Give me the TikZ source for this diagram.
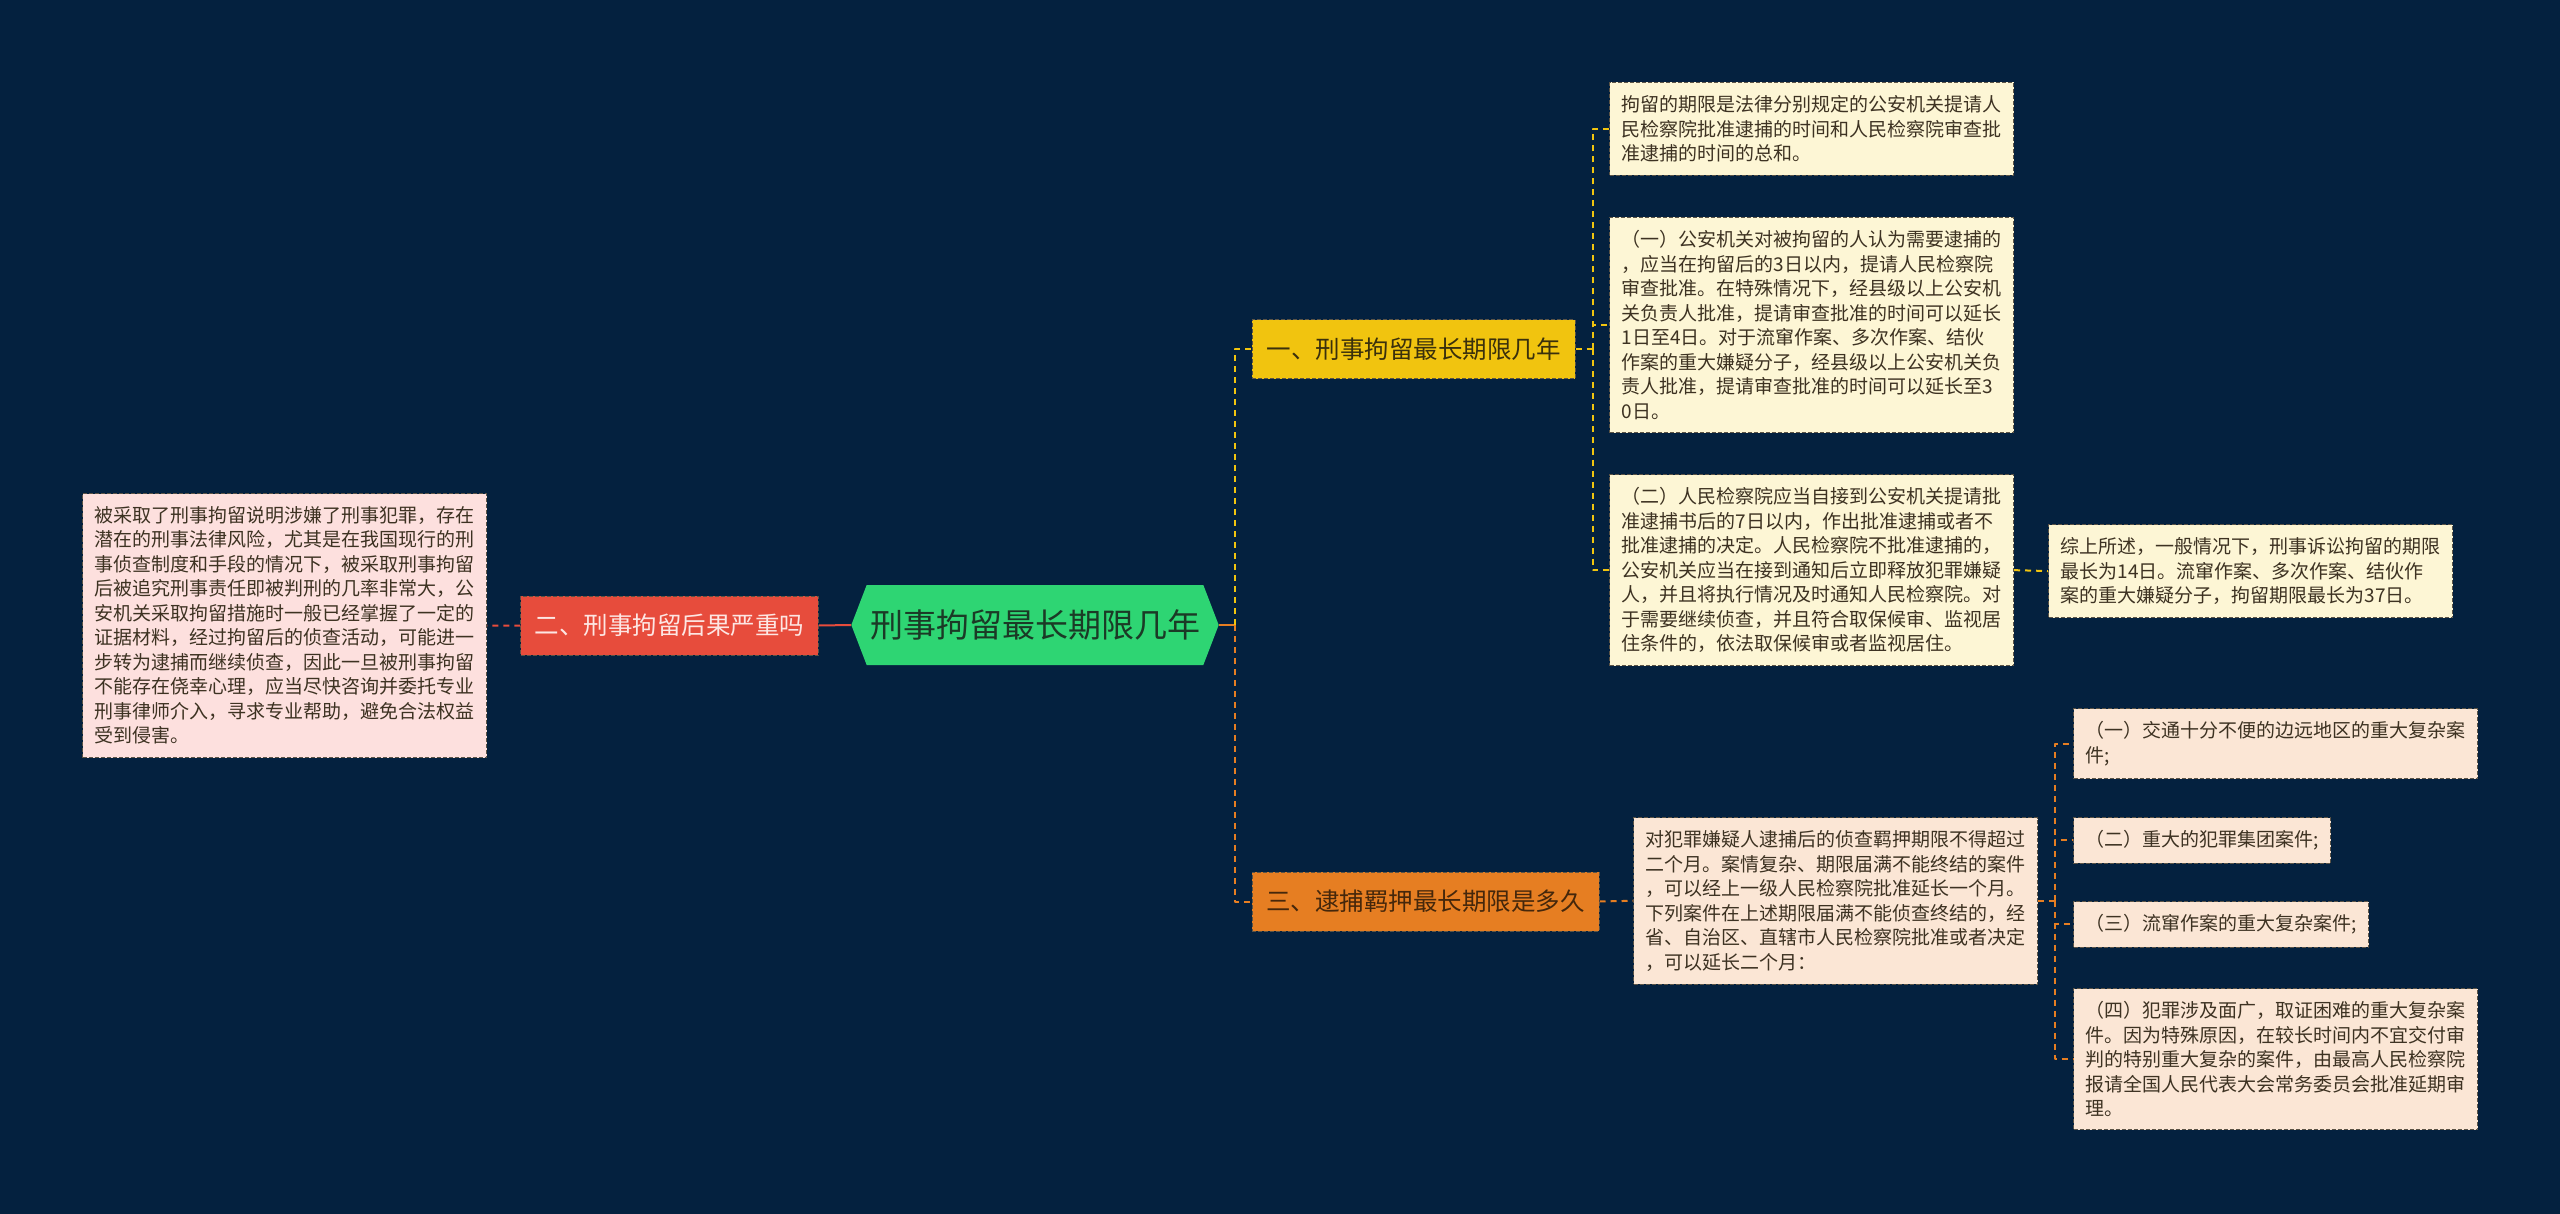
\documentclass[tikz,border=0pt]{standalone}
\usepackage{fontspec}
\setmainfont{Noto Sans CJK SC}
\usetikzlibrary{shapes.symbols}
\definecolor{mapBg}{HTML}{04213F}
\definecolor{rootFill}{HTML}{2ED573}
\definecolor{rootText}{HTML}{1B3A26}
\definecolor{yellowFill}{HTML}{F1C40F}
\definecolor{yellowText}{HTML}{3A300C}
\definecolor{redFill}{HTML}{E74C3C}
\definecolor{redText}{HTML}{FDE6E3}
\definecolor{orangeFill}{HTML}{E67E22}
\definecolor{orangeText}{HTML}{45270B}
\definecolor{creamFill}{HTML}{FDF6D5}
\definecolor{pinkFill}{HTML}{FDE0DE}
\definecolor{peachFill}{HTML}{FBE6D5}
\definecolor{noteText}{HTML}{3D3222}
\definecolor{noteEdge}{HTML}{5C5446}
\begin{document}
\begin{tikzpicture}[x=1pt, y=-1pt, line join=round,
  note/.style={draw=noteEdge, line width=1pt, dash pattern=on 4pt off 2pt,
    anchor=north west, align=left, inner xsep=12pt, inner ysep=13pt,
    text=noteText, font=\fontsize{19}{24.5}\selectfont},
  branch/.style={draw=noteEdge, line width=1pt, dash pattern=on 4pt off 2pt,
    minimum height=59pt, inner xsep=14pt, font=\fontsize{24.5}{28}\selectfont},
  root/.style={shape=signal, signal to=west and east, signal pointer angle=138,
    fill=rootFill, text=rootText, minimum width=364pt, minimum height=80pt,
    font=\fontsize{33}{38}\selectfont},
  linkY/.style={draw=yellowFill, line width=2pt, dash pattern=on 6pt off 5pt},
  linkO/.style={draw=orangeFill, line width=2pt, dash pattern=on 6pt off 5pt},
  linkR/.style={draw=redFill, line width=2pt, dash pattern=on 6pt off 5pt}]
\providecommand{\hubGap}{17}
% Background
\path[use as bounding box, fill=mapBg] (0,0) rectangle (2560,1214);
% Central topic
\node[root] (root) at (1035,625) {刑事拘留最长期限几年};
% First level branches
\node[branch, fill=yellowFill, text=yellowText, minimum width=323pt] (lblA) at (1413.5,349.5) {一、刑事拘留最长期限几年};
\node[branch, fill=redFill, text=redText, minimum width=297pt] (lblB) at (669.5,625.5) {二、刑事拘留后果严重吗};
\node[branch, fill=orangeFill, text=orangeText, minimum width=347pt] (lblC) at (1425.5,901.5) {三、逮捕羁押最长期限是多久};
% Notes of branch one
\begin{scope}[every node/.append style={fill=creamFill}]
  \node[note] (boxDef) at (1609,82) {拘留的期限是法律分别规定的公安机关提请人\\民检察院批准逮捕的时间和人民检察院审查批\\准逮捕的时间的总和。};
  \node[note] (boxOne) at (1609,217) {（一）公安机关对被拘留的人认为需要逮捕的\\，应当在拘留后的3日以内，提请人民检察院\\审查批准。在特殊情况下，经县级以上公安机\\关负责人批准，提请审查批准的时间可以延长\\1日至4日。对于流窜作案、多次作案、结伙\\作案的重大嫌疑分子，经县级以上公安机关负\\责人批准，提请审查批准的时间可以延长至3\\0日。};
  \node[note] (boxTwo) at (1609,474) {（二）人民检察院应当自接到公安机关提请批\\准逮捕书后的7日以内，作出批准逮捕或者不\\批准逮捕的决定。人民检察院不批准逮捕的，\\公安机关应当在接到通知后立即释放犯罪嫌疑\\人，并且将执行情况及时通知人民检察院。对\\于需要继续侦查，并且符合取保候审、监视居\\住条件的，依法取保候审或者监视居住。};
  \node[note] (boxSum) at (2048,524) {综上所述，一般情况下，刑事诉讼拘留的期限\\最长为14日。流窜作案、多次作案、结伙作\\案的重大嫌疑分子，拘留期限最长为37日。};
\end{scope}
% Note of branch two
\node[note, fill=pinkFill] (boxLeft) at (82,493) {被采取了刑事拘留说明涉嫌了刑事犯罪，存在\\潜在的刑事法律风险，尤其是在我国现行的刑\\事侦查制度和手段的情况下，被采取刑事拘留\\后被追究刑事责任即被判刑的几率非常大，公\\安机关采取拘留措施时一般已经掌握了一定的\\证据材料，经过拘留后的侦查活动，可能进一\\步转为逮捕而继续侦查，因此一旦被刑事拘留\\不能存在侥幸心理，应当尽快咨询并委托专业\\刑事律师介入，寻求专业帮助，避免合法权益\\受到侵害。};
% Notes of branch three
\begin{scope}[every node/.append style={fill=peachFill}]
  \node[note] (boxArrest) at (1633,817) {对犯罪嫌疑人逮捕后的侦查羁押期限不得超过\\二个月。案情复杂、期限届满不能终结的案件\\，可以经上一级人民检察院批准延长一个月。\\下列案件在上述期限届满不能侦查终结的，经\\省、自治区、直辖市人民检察院批准或者决定\\，可以延长二个月：};
  \node[note] (caseA) at (2073,708) {（一）交通十分不便的边远地区的重大复杂案\\件;};
  \node[note] (caseB) at (2073,817) {（二）重大的犯罪集团案件;};
  \node[note] (caseC) at (2073,901) {（三）流窜作案的重大复杂案件;};
  \node[note] (caseD) at (2073,988) {（四）犯罪涉及面广，取证困难的重大复杂案\\件。因为特殊原因，在较长时间内不宜交付审\\判的特别重大复杂的案件，由最高人民检察院\\报请全国人民代表大会常务委员会批准延期审\\理。};
\end{scope}
% Connectors
\path (root.east) ++(16,0) coordinate (hubR);
\path (lblA.east) ++(\hubGap,0) coordinate (hubA);
\path (boxArrest.east) ++(\hubGap,0) coordinate (hubC);
\draw[orangeFill, line width=2pt] (root.east) -- (hubR);
\draw[linkY] (hubR) |- (lblA.west);
\draw[linkO] (hubR) |- (lblC.west);
\draw[redFill, line width=2pt] (root.west) -- (lblB.east);
\draw[linkR] (lblB.west) -- (boxLeft.east);
\draw[linkY] (lblA.east) -- (hubA);
\foreach \b in {boxDef,boxOne,boxTwo}
  \draw[linkY] (hubA) |- (\b.west);
\draw[linkY] (boxTwo.east) -- (boxSum.west);
\draw[linkO] (lblC.east) -- (boxArrest.west);
\draw[linkO] (boxArrest.east) -- (hubC);
\foreach \b in {caseA,caseB,caseC,caseD}
  \draw[linkO] (hubC) |- (\b.west);
\end{tikzpicture}
\end{document}
